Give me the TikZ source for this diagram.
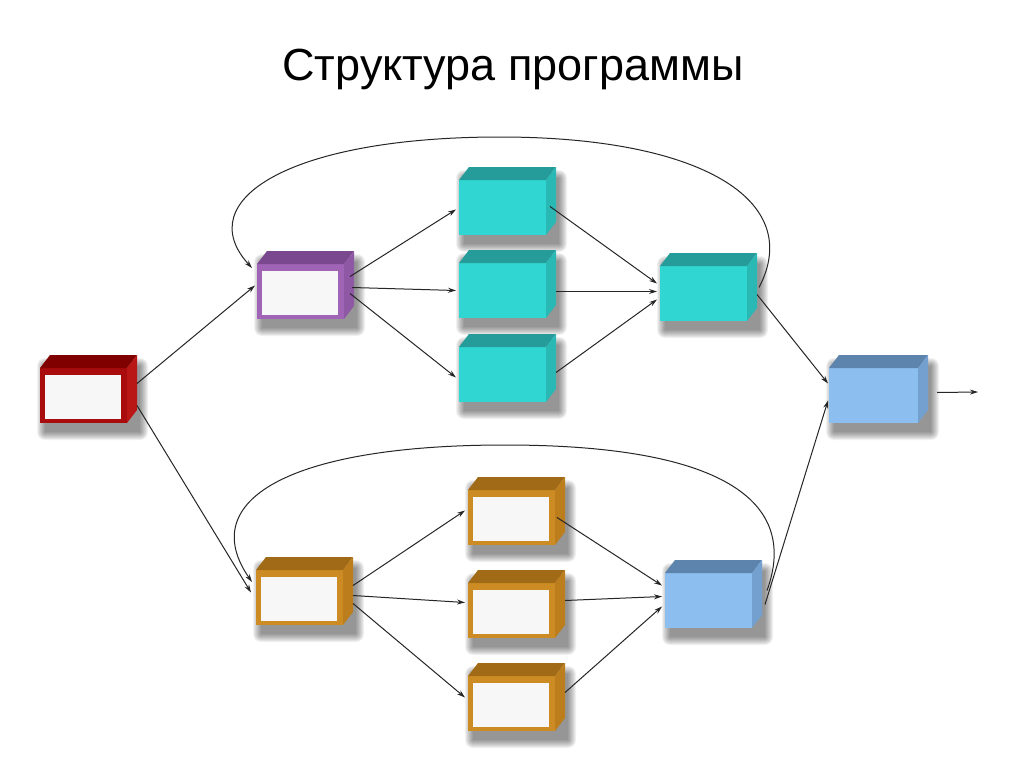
\documentclass[tikz,border=0pt]{standalone}
\usepackage{fontspec}
\setmainfont{Liberation Sans}
\usetikzlibrary{arrows.meta}

\definecolor{redF}{RGB}{168,12,12}
\definecolor{redT}{RGB}{128,0,0}
\definecolor{redS}{RGB}{185,22,22}
\definecolor{purF}{RGB}{160,100,182}
\definecolor{purT}{RGB}{122,72,142}
\definecolor{purS}{RGB}{142,88,164}
\definecolor{cyF}{RGB}{48,214,210}
\definecolor{cyT}{RGB}{38,156,154}
\definecolor{cyS}{RGB}{42,184,181}
\definecolor{orF}{RGB}{205,140,35}
\definecolor{orT}{RGB}{160,106,22}
\definecolor{orS}{RGB}{188,126,28}
\definecolor{blF}{RGB}{140,190,240}
\definecolor{blT}{RGB}{92,132,172}
\definecolor{blS}{RGB}{115,160,206}
\definecolor{boxwhite}{RGB}{247,247,247}

\pgfdeclarelayer{bg}
\pgfsetlayers{bg,main}

\tikzset{
  front/.style={minimum width=87pt,minimum height=55pt,inner sep=0pt,outer sep=0pt},
  framed/.style={path picture={\fill[boxwhite]
    ([shift={(5pt,-7pt)}]path picture bounding box.north west) rectangle
    ([shift={(-6pt,4pt)}]path picture bounding box.south east);}},
  softshadow/.style={fill=black,opacity=0.055},
  conn/.style={draw=black!85,line width=1pt,-{Stealth[length=8pt,width=5pt]}},
  title/.style={font=\fontsize{45}{54}\selectfont,anchor=base,inner sep=0pt}
}

\newcommand{\cubefaces}[3]{%
  \begin{pgfonlayer}{bg}
    \foreach \i in {0,...,8}{
      \fill[softshadow,rounded corners={\i*1pt}]
        ([shift={({(5-\i)*1pt},{(-9-\i)*1pt})}]#1.south west) rectangle
        ([shift={({(13+\i)*1pt},{(2+\i)*1pt})}]#1.north east);
    }
  \end{pgfonlayer}
  \fill[#2] (#1.north west) -- ++(10pt,13pt) -- ([shift={(10pt,13pt)}]#1.north east) -- (#1.north east) -- cycle;
  \fill[#3] (#1.north east) -- ++(10pt,13pt) -- ([shift={(10pt,13pt)}]#1.south east) -- (#1.south east) -- cycle;
}

\begin{document}
\begin{tikzpicture}[x=1pt,y=-1pt]
\begin{pgfonlayer}{bg}
\fill[white] (0,0) rectangle (1024,768);
\end{pgfonlayer}
\useasboundingbox (0,0) rectangle (1024,768);

\node[title] (ttl) at (513,80) {Структура программы};

% boxes
\node[front,fill=redF,framed] (red) at (83.5,395.5) {};
\cubefaces{red}{redT}{redS}
\node[front,fill=purF,framed] (pur) at (300.5,291.5) {};
\cubefaces{pur}{purT}{purS}
\node[front,fill=cyF] (cyt) at (502.5,207.5) {};
\cubefaces{cyt}{cyT}{cyS}
\node[front,fill=cyF] (cym) at (502.5,290.5) {};
\cubefaces{cym}{cyT}{cyS}
\node[front,fill=cyF] (cyb) at (502.5,374.5) {};
\cubefaces{cyb}{cyT}{cyS}
\node[front,fill=cyF] (cyr) at (703.5,293.5) {};
\cubefaces{cyr}{cyT}{cyS}
\node[front,fill=blF,minimum width=89pt] (blr) at (873.5,395.5) {};
\cubefaces{blr}{blT}{blS}
\node[front,fill=orF,framed] (orl) at (299.5,597.5) {};
\cubefaces{orl}{orT}{orS}
\node[front,fill=orF,framed] (ort) at (511.5,517.5) {};
\cubefaces{ort}{orT}{orS}
\node[front,fill=orF,framed] (orm) at (511.5,610.5) {};
\cubefaces{orm}{orT}{orS}
\node[front,fill=orF,framed] (orb) at (511.5,703.5) {};
\cubefaces{orb}{orT}{orS}
\node[front,fill=blF] (blb) at (708.5,600.5) {};
\cubefaces{blb}{blT}{blS}

\coordinate (out) at (978,392);

% connectors
\draw[conn] ([shift={(10pt,12pt)}]red.east) -- ([shift={(-2pt,6pt)}]pur.west);
\draw[conn] ([shift={(10pt,-10pt)}]red.east) -- ([shift={(-5pt,5pt)}]orl.west);

\draw[conn] ([shift={(6pt,15pt)}]pur.east) -- ([shift={(-3pt,-2pt)}]cyt.west);
\draw[conn] ([shift={(8pt,4pt)}]pur.east) -- ([shift={(-3pt,0pt)}]cym.west);
\draw[conn] ([shift={(6pt,-2pt)}]pur.east) -- ([shift={(-3pt,-3pt)}]cyb.west);

\draw[conn] ([shift={(4pt,1pt)}]cyt.east) -- ([shift={(-3pt,10pt)}]cyr.west);
\draw[conn] ([shift={(10pt,-1pt)}]cym.east) -- ([shift={(-3pt,2pt)}]cyr.west);
\draw[conn] ([shift={(10pt,2pt)}]cyb.east) -- ([shift={(-3pt,-6pt)}]cyr.west);

\draw[conn] ([shift={(10pt,-1pt)}]cyr.east) -- ([shift={(-1pt,12pt)}]blr.west);
\draw[conn] ([shift={(19pt,3pt)}]blr.east) -- (out);

\draw[conn] ([shift={(10pt,12pt)}]orl.east) -- ([shift={(-3pt,7pt)}]ort.west);
\draw[conn] ([shift={(10pt,2pt)}]orl.east) -- ([shift={(-3pt,8pt)}]orm.west);
\draw[conn] ([shift={(10pt,-6pt)}]orl.east) -- ([shift={(-3pt,6pt)}]orb.west);

\draw[conn] ([shift={(2pt,0pt)}]ort.east) -- ([shift={(-3pt,15pt)}]blb.west);
\draw[conn] ([shift={(10pt,10pt)}]orm.east) -- ([shift={(-3pt,4pt)}]blb.west);
\draw[conn] ([shift={(10pt,11pt)}]orb.east) -- ([shift={(-3pt,-6pt)}]blb.west);

\draw[conn] ([shift={(13pt,-4pt)}]blb.east) -- ([shift={(-1pt,-5pt)}]blr.west);

% feedback curves
\draw[conn] ([shift={(12pt,6pt)}]cyr.east) .. controls (805,200) and (700,137) .. (500,137)
  .. controls (290,137) and (190,200) .. ([shift={(-5pt,-4pt)}]pur.north west);
\draw[conn] ([shift={(15pt,10pt)}]blb.east) .. controls (800,500) and (720,445) .. (505,445)
  .. controls (290,445) and (195,500) .. ([shift={(-4pt,-12pt)}]orl.north west);
\end{tikzpicture}
\end{document}
